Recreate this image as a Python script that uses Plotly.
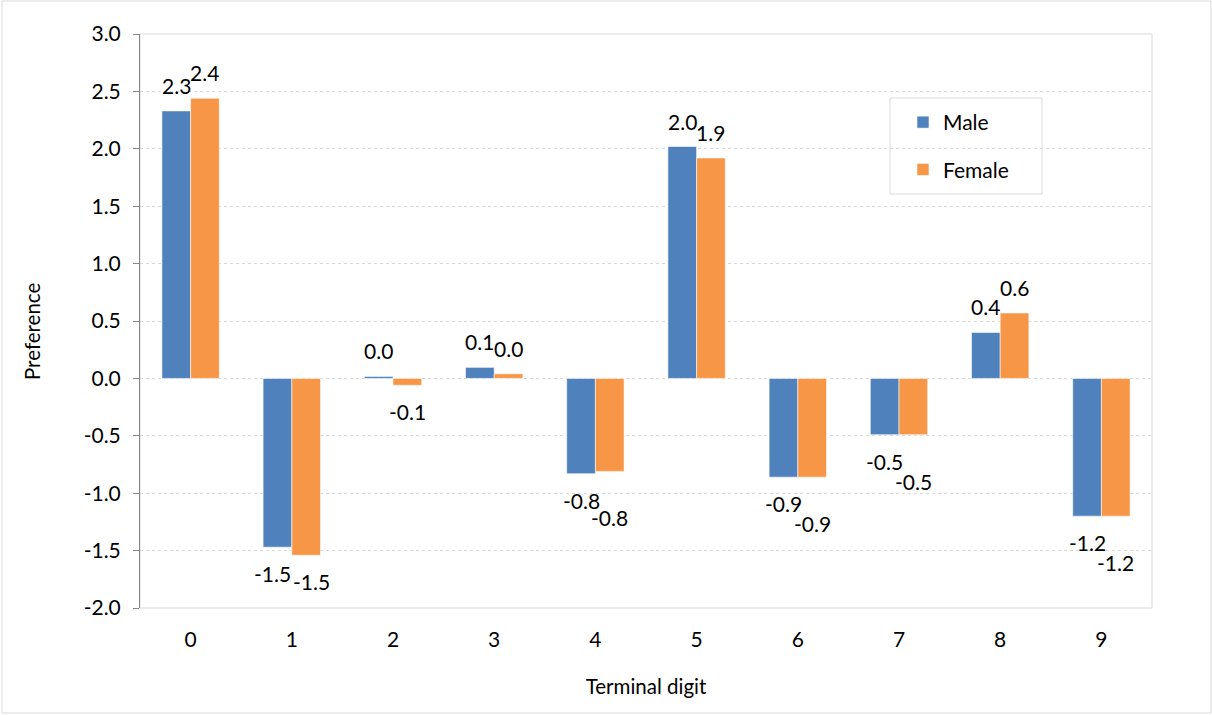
import plotly.graph_objects as go

# Terminal-digit preference by sex
digits = [0, 1, 2, 3, 4, 5, 6, 7, 8, 9]
male = [2.33, -1.47, 0.017, 0.096, -0.83, 2.02, -0.86, -0.49, 0.40, -1.20]
female = [2.44, -1.54, -0.06, 0.04, -0.81, 1.92, -0.86, -0.49, 0.57, -1.20]
y_ticks = [3.0, 2.5, 2.0, 1.5, 1.0, 0.5, 0.0, -0.5, -1.0, -1.5, -2.0]

BLUE = "#4F81BD"
ORANGE = "#F79646"
FONT = "Lato, Carlito, Calibri, sans-serif"
AXIS = "#868686"
LIGHT = "#d9d9d9"
FS = 21

W, H = 1212, 715
ML, MR, MT, MB = 140, 60, 34, 107
PW = W - ML - MR
PH = H - MT - MB
Y0, Y1 = -2.0, 3.0
BARGAP = 0.433
bar_px = PW / len(digits) * (1 - BARGAP) / 2


def px_x(p):
    return (p - ML) / PW


def px_y(p):
    return (MT + PH - p) / PH


fig = go.Figure()
fig.add_trace(go.Bar(x=digits, y=male, name="Male", legendgroup="m",
                     marker_color=BLUE,
                     marker_line=dict(width=0.8, color="rgba(255,255,255,0.7)")))
fig.add_trace(go.Bar(x=digits, y=female, name="Female", legendgroup="f",
                     marker_color=ORANGE,
                     marker_line=dict(width=0.8, color="rgba(255,255,255,0.7)")))

# value labels at the outer end of each bar
annotations = []
for d, m, f in zip(digits, male, female):
    both_neg = m < 0 and f < 0
    level = both_neg and abs(m - f) < 0.05
    for v, side in ((m, -1), (f, 1)):
        spread = 0
        if v >= 0:
            anchor, shift = "bottom", 11
        else:
            anchor, shift = "top", -12
            if level and side == 1:
                # drop the second label a line lower when both bar ends are level
                shift -= 20
            elif both_neg and not level:
                # nudge neighbouring labels apart so they do not collide
                spread = 5
        annotations.append(dict(
            x=d, y=v, xref="x", yref="y", text=f"{v:.1f}", showarrow=False,
            xanchor="center", yanchor=anchor,
            xshift=side * (bar_px / 2 + spread),
            yshift=shift, font=dict(family=FONT, size=FS, color="#000000")))

annotations.append(dict(
    x=px_x(32), y=px_y(332), xref="paper", yref="paper",
    xanchor="center", yanchor="middle",
    text="Preference", textangle=-90, showarrow=False,
    font=dict(family=FONT, size=20.5, color="#000000")))

shapes = [
    # plot area frame
    dict(type="rect", xref="paper", yref="paper", x0=0, x1=1, y0=0, y1=1,
         line=dict(color=LIGHT, width=1), layer="below"),
    # chart frame
    dict(type="rect", xref="paper", yref="paper",
         x0=px_x(2), x1=px_x(W - 1), y0=px_y(H - 2), y1=px_y(1),
         line=dict(color=LIGHT, width=1), layer="below"),
    # legend frame
    dict(type="rect", xref="paper", yref="paper",
         x0=px_x(890), x1=px_x(1042), y0=px_y(194), y1=px_y(98),
         line=dict(color=LIGHT, width=1), fillcolor="white", layer="below"),
]

fig.update_layout(
    width=W, height=H,
    margin=dict(l=ML, r=MR, t=MT, b=MB, pad=0),
    paper_bgcolor="white", plot_bgcolor="white",
    barmode="group", bargap=BARGAP, bargroupgap=0,
    font=dict(family=FONT, size=FS, color="#000000"),
    showlegend=True,
    legend=dict(x=px_x(903), y=px_y(102),
                xanchor="left", yanchor="top",
                borderwidth=0, bgcolor="rgba(0,0,0,0)",
                font=dict(family=FONT, size=FS, color="#000000"),
                traceorder="grouped", tracegroupgap=17,
                itemwidth=30),
    annotations=annotations,
    shapes=shapes,
    xaxis=dict(range=[-0.5, 9.5], tickvals=digits, ticktext=[str(d) for d in digits],
               showline=False, showgrid=False, zeroline=False, ticks="",
               ticklabelstandoff=17,
               tickfont=dict(family=FONT, size=FS, color="#000000"),
               title=dict(text="Terminal digit", standoff=29,
                          font=dict(family=FONT, size=20.5, color="#000000"))),
    xaxis2=dict(range=[-0.5, 9.5], overlaying="x", anchor="free",
                position=(0 - Y0) / (Y1 - Y0), side="bottom",
                tickvals=[d - 0.5 for d in digits] + [digits[-1] + 0.5],
                ticks="inside", ticklen=5, tickcolor=AXIS, tickwidth=1,
                showticklabels=False, showline=True, linecolor="#7a7a7a", linewidth=1.6,
                showgrid=False, zeroline=False),
    yaxis=dict(range=[Y0, Y1], tickvals=y_ticks,
               ticktext=[f"{t:.1f}" for t in y_ticks],
               showline=True, linecolor=AXIS, linewidth=1,
               ticks="outside", ticklen=6, tickcolor=AXIS,
               showgrid=True, gridcolor=LIGHT, griddash="dot", gridwidth=1,
               zeroline=False, ticklabelstandoff=8,
               tickfont=dict(family=FONT, size=FS, color="#000000")),
)

fig.write_html("out.html")
